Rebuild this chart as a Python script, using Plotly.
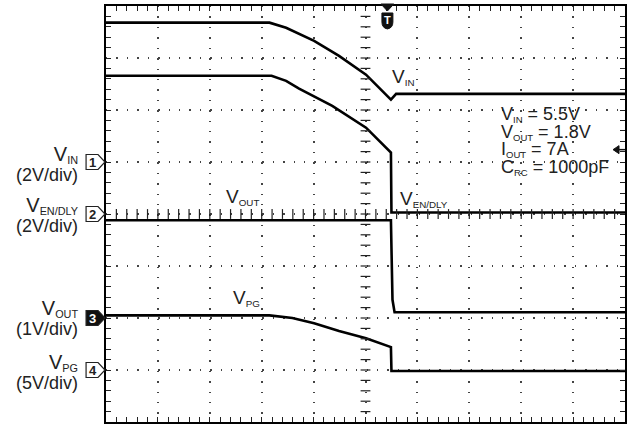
import plotly.graph_objects as go
import numpy as np

# ---- data (x in time divisions 0..10, y in vertical divisions 0..8) ----
vin_t = [0, 3.15, 3.47, 4.01, 4.49, 5.01, 5.49, 5.59, 10]
vin_v = [7.68, 7.68, 7.58, 7.33, 7.04, 6.68, 6.20, 6.31, 6.31]

en_t = [0, 3.19, 3.47, 3.72, 4.36, 5.01, 5.49, 5.50, 5.53, 10]
en_v = [6.66, 6.66, 6.56, 6.41, 6.08, 5.66, 5.18, 4.03, 4.03, 4.03]

vout_t = [0, 5.49, 5.52, 5.56, 10]
vout_v = [3.88, 3.88, 2.35, 2.11, 2.11]

vpg_t = [0, 3.15, 3.59, 4.01, 4.49, 5.01, 5.49, 5.50, 10]
vpg_v = [2.05, 2.05, 2.00, 1.90, 1.75, 1.61, 1.44, 0.98, 0.98]

ch_levels = [5, 4, 2, 1]
ch_numbers = ["1", "2", "3", "4"]
ch_mains = ["V", "V", "V", "V"]
ch_subs = ["IN", "EN/DLY", "OUT", "PG"]
ch_scales = ["(2V/div)", "(2V/div)", "(1V/div)", "(5V/div)"]

cond_mains = ["V", "V", "I", "C"]
cond_subs = ["IN", "OUT", "OUT", "RC"]
cond_values = [" = 5.5V", " = 1.8V", " = 7A", " = 1000pF"]

W, H = 631, 429
L, R, T, B = 106, 627, 5, 422
FONT = "Liberation Sans, Arial, Helvetica, sans-serif"


def px(x):
    return (x - L) / (R - L)


def py(y):
    return (B - y) / (B - T)


def subtext(main, sub, rest="", big=20, rest_size=None):
    rs = rest_size or big
    s = "<span style='font-size:%dpx'>%s</span><sub>%s</sub>" % (big, main, sub)
    if rest:
        s += "<span style='font-size:%dpx'>%s</span>" % (rs, rest)
    return s


fig = go.Figure()

line_style = dict(color="black", width=2.6)
for t, v in [(vin_t, vin_v), (en_t, en_v), (vout_t, vout_v), (vpg_t, vpg_v)]:
    fig.add_trace(go.Scatter(x=t, y=v, mode="lines", line=line_style,
                             hoverinfo="skip", showlegend=False))

# center cross tick marks
minor = np.round(np.arange(0.2, 10, 0.2), 2)
minor_y = np.round(np.arange(0.2, 8, 0.2), 2)
fig.add_trace(go.Scatter(x=minor, y=[4] * len(minor), mode="markers",
                         marker=dict(symbol="line-ns", size=7,
                                     line=dict(color="#222", width=1.2)),
                         hoverinfo="skip", showlegend=False))
fig.add_trace(go.Scatter(x=[5] * len(minor_y), y=minor_y, mode="markers",
                         marker=dict(symbol="line-ew", size=7,
                                     line=dict(color="#222", width=1.2)),
                         hoverinfo="skip", showlegend=False))

div_px = (R - L) / 10.0
dash = "1.4px,%.2fpx" % (div_px / 5 - 1.4)

axis_common = dict(
    showline=True, linecolor="black", linewidth=2.4, mirror="allticks",
    ticks="inside", ticklen=5, tickwidth=1.2, tickcolor="#222",
    showticklabels=False, zeroline=False,
    showgrid=True, gridcolor="#444", gridwidth=1.7, griddash=dash,
    dtick=1, tick0=0,
    minor=dict(ticks="inside", ticklen=5, tickwidth=1.2, tickcolor="#222",
               dtick=0.2, tick0=0, showgrid=False),
    fixedrange=True,
)
fig.update_xaxes(range=[0, 10], **axis_common)
fig.update_yaxes(range=[0, 8], **axis_common)

annotations = []
shapes = []

# channel labels on the left (two lines each)
label_centers = [163, 215, 318, 372]
for m, sb, scale, yc in zip(ch_mains, ch_subs, ch_scales, label_centers):
    txt = subtext(m, sb, big=20) + "<br><span style='font-size:18px'>%s</span>" % scale
    annotations.append(dict(x=px(80), y=py(yc), xref="paper", yref="paper",
                            text=txt, showarrow=False, xanchor="right", align="right",
                            yanchor="middle", font=dict(family=FONT, size=15.5, color="#222")))

# channel ground markers
for num, lvl in zip(ch_numbers, ch_levels):
    yp = lvl / 8.0
    h = 7.5 / (B - T)
    x0, x1, x2 = px(86), px(98), px(105)
    filled = num == "3"
    shapes.append(dict(type="path", xref="paper", yref="paper",
                       path="M%f,%f L%f,%f L%f,%f L%f,%f L%f,%f Z" % (
                           x0, yp - h, x1, yp - h, x2, yp, x1, yp + h, x0, yp + h),
                       line=dict(color="#222", width=1.2),
                       fillcolor="#111" if filled else "white"))
    annotations.append(dict(x=px(92.5), y=yp, xref="paper", yref="paper",
                            text="<b>%s</b>" % num, showarrow=False,
                            xanchor="center", yanchor="middle",
                            font=dict(family=FONT, size=13,
                                      color="white" if filled else "#222")))

# trace labels
trace_labels = [("V", "IN", 391, 76),
                ("V", "OUT", 224, 196),
                ("V", "EN/DLY", 399, 198),
                ("V", "PG", 231, 298)]
for m, sb, x, y in trace_labels:
    annotations.append(dict(x=px(x), y=py(y), xref="paper", yref="paper",
                            text=subtext(m, sb, big=19), showarrow=False, xanchor="left",
                            yanchor="middle", font=dict(family=FONT, size=14, color="#222")))

# condition text block (one multi-line annotation)
cond_txt = "<br>".join(subtext(m, sb, val, big=18)
                       for m, sb, val in zip(cond_mains, cond_subs, cond_values))
annotations.append(dict(x=px(501), y=py(140), xref="paper", yref="paper",
                        text=cond_txt, showarrow=False, xanchor="left", align="left",
                        yanchor="middle", font=dict(family=FONT, size=13.6, color="#222")))

# trigger marker at top
shapes.append(dict(type="path", xref="paper", yref="paper",
                   path="M%f,%f L%f,%f L%f,%f Z" % (px(382), py(3), px(395), py(3), px(388.5), py(10)),
                   line=dict(color="#111", width=1), fillcolor="#111"))
shapes.append(dict(type="path", xref="paper", yref="paper",
                   path="M%f,%f L%f,%f L%f,%f Q%f,%f %f,%f Q%f,%f %f,%f Z" % (
                       px(383), py(12), px(394), py(12), px(394), py(21),
                       px(394), py(27), px(388.5), py(28),
                       px(383), py(27), px(383), py(21)),
                   line=dict(color="#111", width=1), fillcolor="#111"))
annotations.append(dict(x=px(388.5), y=py(19), xref="paper", yref="paper",
                        text="<b>T</b>", showarrow=False, xanchor="center",
                        yanchor="middle", font=dict(family=FONT, size=11, color="white")))

# trigger level arrow on right
shapes.append(dict(type="path", xref="paper", yref="paper",
                   path="M%f,%f L%f,%f L%f,%f Z" % (px(615), py(149), px(621), py(145), px(621), py(153)),
                   line=dict(color="#111", width=1), fillcolor="#111"))
shapes.append(dict(type="line", xref="paper", yref="paper",
                   x0=px(620), x1=px(627), y0=py(149), y1=py(149),
                   line=dict(color="#111", width=1.5)))

fig.update_layout(
    width=W, height=H,
    margin=dict(l=L, r=W - R, t=T, b=H - B),
    paper_bgcolor="white", plot_bgcolor="white",
    showlegend=False,
    annotations=annotations, shapes=shapes,
)

fig.write_html("out.html", config={"displayModeBar": False},
               post_script="document.body.style.margin='0';")
